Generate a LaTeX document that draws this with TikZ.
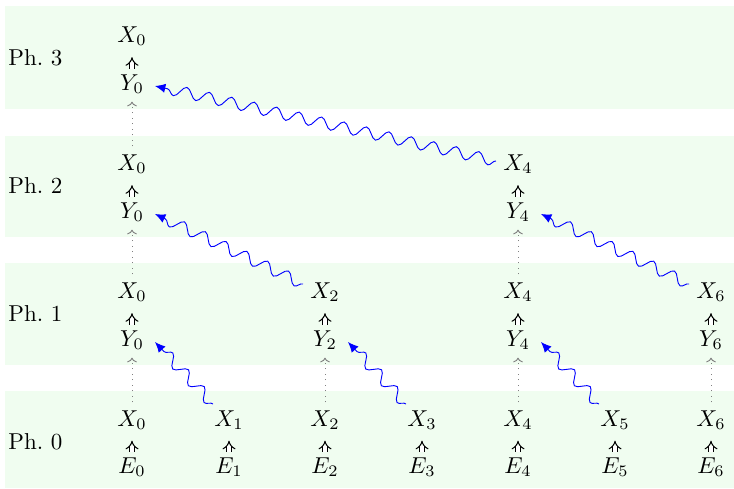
\documentclass[tikz,border=0pt]{standalone}
\usetikzlibrary{arrows.meta,decorations.pathmorphing,calc}
\definecolor{bandgreen}{RGB}{240,253,240}
\begin{document}
\begin{tikzpicture}[x=0.4348pt,y=-0.4348pt,
  band/.style={fill=bandgreen,draw=none},
  var/.style={inner sep=3.33pt},
  phlabel/.style={anchor=west,inner sep=0pt},
  imp/.style={double,double distance=1.5pt,line width=0.45pt,-{Implies}},
  carry/.style={gray,dotted,-{To[length=2pt]}},
  wave/.style={blue,-{Latex[length=4.5pt,width=4pt]},decorate,decoration={snake,amplitude=2.4pt,segment length=10pt,post length=3pt}}]
\useasboundingbox (0,0) rectangle (734,488);
% bands
\fill[band] (5,6) rectangle (734,109);
\fill[band] (5,136) rectangle (734,237);
\fill[band] (5,263) rectangle (734,365);
\fill[band] (5,391) rectangle (734,488);
% phase labels
\node[phlabel] (ph3) at (8,58) {Ph.\ 3};
\node[phlabel] (ph2) at (8,186) {Ph.\ 2};
\node[phlabel] (ph1) at (8,314) {Ph.\ 1};
\node[phlabel] (ph0) at (8,442) {Ph.\ 0};
% phase 0
\foreach \i/\x in {0/132,1/229,2/325,3/422,4/518,5/615,6/711}{
  \node[var] (x\i-0) at (\x,420) {$X_{\i}$};
  \node[var] (e\i-0) at (\x,467) {$E_{\i}$};
  \draw[imp] ($(e\i-0)!0.32!(x\i-0)$) -- ($(e\i-0)!0.56!(x\i-0)$);
}
% phase 1
\foreach \i/\x in {0/132,2/325,4/518,6/711}{
  \node[var] (x\i-1) at (\x,292) {$X_{\i}$};
  \node[var] (y\i-1) at (\x,340) {$Y_{\i}$};
  \draw[imp] ($(y\i-1)!0.32!(x\i-1)$) -- ($(y\i-1)!0.56!(x\i-1)$);
  \draw[carry] (x\i-0) -- (y\i-1);
}
% phase 2
\foreach \i/\x in {0/132,4/518}{
  \node[var] (x\i-2) at (\x,164) {$X_{\i}$};
  \node[var] (y\i-2) at (\x,212) {$Y_{\i}$};
  \draw[imp] ($(y\i-2)!0.32!(x\i-2)$) -- ($(y\i-2)!0.56!(x\i-2)$);
  \draw[carry] (x\i-1) -- (y\i-2);
}
% phase 3
\node[var] (x0-3) at (132,36) {$X_{0}$};
\node[var] (y0-3) at (132,84) {$Y_{0}$};
\draw[imp] ($(y0-3)!0.32!(x0-3)$) -- ($(y0-3)!0.56!(x0-3)$);
\draw[carry] (x0-2) -- (y0-3);
% wavy messages
\draw[wave] ([shift={(-16,-16)}]x1-0.center) -- ([shift={(23,2)}]y0-1.center);
\draw[wave] ([shift={(-16,-16)}]x3-0.center) -- ([shift={(23,2)}]y2-1.center);
\draw[wave] ([shift={(-16,-16)}]x5-0.center) -- ([shift={(23,2)}]y4-1.center);
\draw[wave] ([shift={(-22,-8)}]x2-1.center) -- ([shift={(23,2)}]y0-2.center);
\draw[wave] ([shift={(-22,-8)}]x6-1.center) -- ([shift={(23,2)}]y4-2.center);
\draw[wave] ([shift={(-22,-3)}]x4-2.center) -- ([shift={(23,2)}]y0-3.center);
\end{tikzpicture}
\end{document}
